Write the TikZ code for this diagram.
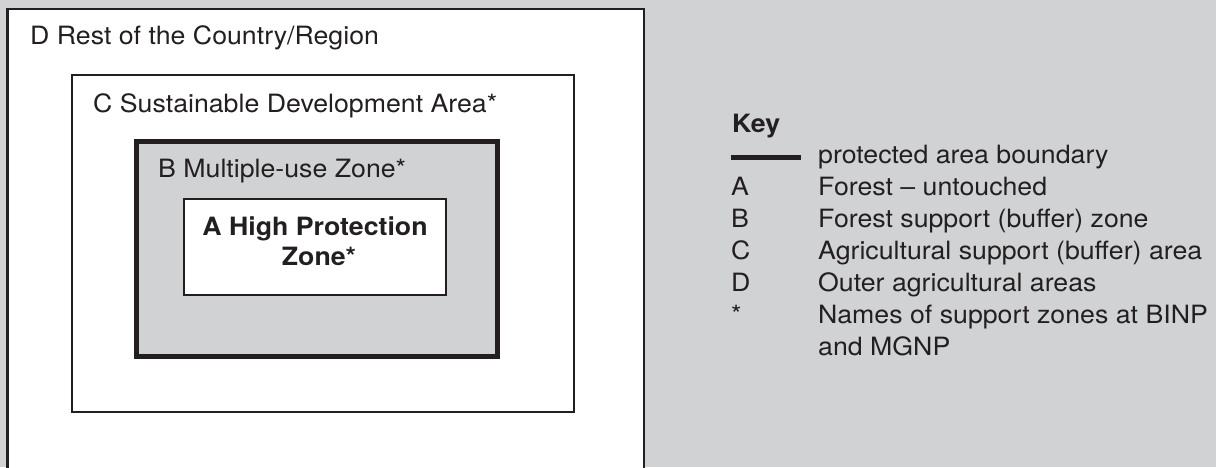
\documentclass[tikz,border=0pt]{standalone}
\usepackage{fontspec}
\setmainfont{TeX Gyre Heros}[FakeStretch=1.06]
\definecolor{panel}{HTML}{D1D2D4}
\definecolor{ink}{HTML}{231F20}

\begin{document}
\begin{tikzpicture}[x=1pt,y=-1pt,
  zone/.style={draw=ink, line width=2.4pt},
  corezone/.style={draw=ink, line width=2pt, fill=white},
  boundary/.style={draw=ink, line width=5pt},
  txt/.style={anchor=base west, inner sep=0pt, text=ink,
              font=\fontsize{25.2}{30}\selectfont},
  boldtxt/.style={anchor=base, inner sep=0pt, text=ink,
              font=\fontsize{25.2}{30}\selectfont\bfseries}]

  % page background
  \fill[panel] (0,0) rectangle (1216,467);
  \useasboundingbox (0,0) rectangle (1216,467);

  % D: rest of the country (runs off the bottom edge)
  \fill[white] (7.5,9) rectangle (644,470);
  \draw[zone] (7.5,470) -- (7.5,9) -- (644,9) -- (644,470);

  % C: sustainable development area
  \draw[zone, fill=white] (72,75) rectangle (574,412);

  % B: multiple-use zone, protected area boundary
  \draw[boundary, fill=panel] (136.5,141.5) rectangle (497,356);

  % A: high protection zone
  \draw[corezone] (184,199) rectangle (446,295);

  % zone labels
  \node[txt] (labD) at (30,44) {D Rest of the Country/Region};
  \node[txt] (labC) at (93,112) {C Sustainable Development Area*};
  \node[txt] (labB) at (158,177) {B Multiple-use Zone*};
  \node[boldtxt] (labA1) at (315,235) {A High Protection};
  \node[boldtxt] (labA2) at (319,265) {Zone*};

  % key
  \node[txt, font=\fontsize{25.2}{30}\selectfont\bfseries] (keyhead) at (732,132) {Key};
  \coordinate (kl1) at (731,157);
  \coordinate (kl2) at (801,157);
  \draw[boundary, line width=5pt] (kl1) -- (kl2);
  \node[txt] (kdline) at (818,163) {protected area boundary};

  \node[txt] (kA) at (731,195) {A};
  \node[txt] (kdA) at (818,195) {Forest – untouched};
  \node[txt] (kB) at (731,227) {B};
  \node[txt] (kdB) at (818,227) {Forest support (buffer) zone};
  \node[txt] (kC) at (731,259) {C};
  \node[txt] (kdC) at (818,259) {Agricultural support (buffer) area};
  \node[txt] (kD) at (731,291) {D};
  \node[txt] (kdD) at (818,291) {Outer agricultural areas};
  \node[txt] (kS) at (731,323) {*};
  \node[txt] (kdS) at (818,323) {Names of support zones at BINP};
  \node[txt] (kdS2) at (818,355) {and MGNP};
\end{tikzpicture}
\end{document}
